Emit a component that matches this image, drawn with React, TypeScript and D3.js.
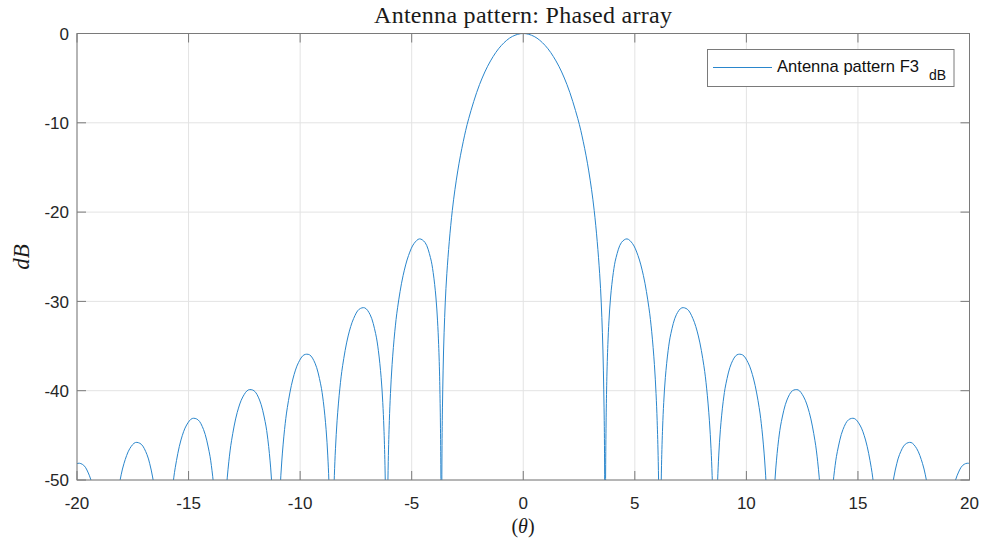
import React from "react";
import * as d3 from "d3";

// Antenna pattern (right half; the pattern is symmetric about 0)
// theta in degrees, level in dB. Nulls are below the -50 dB floor and are clipped.
const thetaDeg: number[] = [
  0, 0.489, 0.978, 1.467, 1.9562, 2.4456, 2.6903, 2.9351, 3.1799, 3.4248, 3.5472, 3.6207, 3.6452, 3.6697,
  3.6942, 3.7432, 3.7922, 3.8412, 3.9147, 4.0373, 4.1598, 4.405, 4.6502, 4.8956, 5.141, 5.3865, 5.6321, 5.755, 5.8778, 5.9516, 6.0007, 6.0499, 6.0991, 6.1237,
  6.1483, 6.1974, 6.2466, 6.2958, 6.3696, 6.4926, 6.6157, 6.8619, 7.1082, 7.3546, 7.6012, 7.8479, 8.0948, 8.2183, 8.3418, 8.4159, 8.4654, 8.5148, 8.589,
  8.6631, 8.7126, 8.7621, 8.8363, 8.96, 9.0838, 9.3315, 9.5793, 9.8274, 10.0756, 10.324, 10.5726, 10.697, 10.8214, 10.8961, 10.9459, 11.0704,
  11.195, 11.2448, 11.3196, 11.4443, 11.5691, 11.8187, 12.0686, 12.3187, 12.5691, 12.8197, 13.0706, 13.1961, 13.3217, 13.3971, 13.573,
  13.6988, 13.8247, 13.9506, 14.0766, 14.3288, 14.5813, 14.834, 15.0871, 15.3404, 15.5941, 15.721, 15.8481, 16.1024,
  16.357, 16.4844, 16.612, 16.7396, 16.8673, 17.1229, 17.3789, 17.6352, 17.892, 18.0205, 18.149, 18.2777, 18.6644,
  19.1813, 19.3108, 19.4404, 19.7, 19.9597, 20.2201, 20.4808,
];
const levelDb: number[] = [
  0, -0.33, -1.33, -3.07, -5.7, -9.54, -12.12, -15.39, -19.82, -26.9, -33.51, -41.84, -47.99, -80,
  -48.25, -38.98, -34.81, -32.18, -29.51, -26.76, -25.09, -23.39, -23.0, -23.52, -24.86, -27.12, -30.71, -33.34, -37.06, -40.32, -43.35, -47.92, -57.59, -80,
  -57.74, -48.35, -44.07, -41.33, -38.51, -35.52, -33.61, -31.49, -30.72, -30.88, -31.91, -33.87, -37.2, -39.71, -43.31, -46.5, -49.48, -54.0, -80,
  -54.31, -49.99, -47.21, -44.32, -41.23, -39.23, -36.92, -35.98, -35.99, -36.86, -38.69, -41.88, -44.33, -47.87, -51.02, -53.98, -80,
  -54.37, -51.56, -48.65, -45.5, -43.45, -41.04, -40.0, -39.91, -40.7, -42.44, -45.55, -47.96, -51.46, -54.59, -80,
  -57.85, -52.1, -48.91, -46.83, -44.35, -43.25, -43.11, -43.84, -45.52, -48.58, -50.96, -54.44, -80,
  -54.97, -51.76, -49.66, -48.18, -47.13, -45.99, -45.8, -46.49, -48.13, -49.42, -51.15, -53.51, -80,
  -52.08, -50.59, -49.53, -48.35, -48.13, -48.79, -50.4,
];

const xTicks = [-20, -15, -10, -5, 0, 5, 10, 15, 20];
const yTicks = [-50, -40, -30, -20, -10, 0];

const titleText = "Antenna pattern: Phased array";
const legendText = "Antenna pattern F3";
const legendSub = "dB";

const W = 981;
const H = 542;
const L = 77;
const R = 969.5;
const T = 33.5;
const B = 480;

const LINE = "#2a86cc";
const AXIS = "#7a7a7a";
const TXT = "#262626";
const GRID = "#e3e3e3";

export default function App() {
  const x = d3.scaleLinear().domain([-20, 20]).range([L, R]);
  const y = d3.scaleLinear().domain([-50, 0]).range([B, T]);

  const pts: [number, number][] = [];
  for (let i = thetaDeg.length - 1; i >= 1; i--) pts.push([-thetaDeg[i], levelDb[i]]);
  for (let i = 0; i < thetaDeg.length; i++) pts.push([thetaDeg[i], levelDb[i]]);

  const line = d3
    .line<[number, number]>()
    .x((d) => x(d[0]))
    .y((d) => y(d[1]))
    .curve(d3.curveCatmullRom.alpha(0.5));

  const sans = "'Liberation Sans', Arial, Helvetica, sans-serif";
  const serif = "'Liberation Serif', 'Times New Roman', serif";
  const tickLen = 9;

  return (
    <div style={{ position: "absolute", left: 0, top: 0 }}>
      <svg width={W} height={H} style={{ display: "block", background: "#fff" }}>
        <defs>
          <clipPath id="plotClip">
            <rect x={L} y={T} width={R - L} height={B - T} />
          </clipPath>
        </defs>
        <rect x={0} y={0} width={W} height={H} fill="#fff" />
        {/* grid */}
        {xTicks.map((t) => (
          <line key={"gx" + t} x1={x(t)} x2={x(t)} y1={T} y2={B} stroke={GRID} strokeWidth={1} />
        ))}
        {yTicks.map((t) => (
          <line key={"gy" + t} x1={L} x2={R} y1={y(t)} y2={y(t)} stroke={GRID} strokeWidth={1} />
        ))}
        {/* data */}
        <path d={line(pts) || ""} fill="none" stroke={LINE} strokeWidth={1} clipPath="url(#plotClip)" />
        {/* box */}
        <rect x={L} y={T} width={R - L} height={B - T} fill="none" stroke={AXIS} strokeWidth={1} />
        {/* ticks */}
        {xTicks.map((t) => (
          <g key={"tx" + t}>
            <line x1={x(t)} x2={x(t)} y1={B} y2={B - tickLen} stroke={AXIS} strokeWidth={1} />
            <line x1={x(t)} x2={x(t)} y1={T} y2={T + tickLen} stroke={AXIS} strokeWidth={1} />
            <text x={x(t)} y={509} textAnchor="middle" fontFamily={sans} fontSize={17} fill={TXT}>
              {t}
            </text>
          </g>
        ))}
        {yTicks.map((t) => (
          <g key={"ty" + t}>
            <line x1={L} x2={L + tickLen} y1={y(t)} y2={y(t)} stroke={AXIS} strokeWidth={1} />
            <line x1={R} x2={R - tickLen} y1={y(t)} y2={y(t)} stroke={AXIS} strokeWidth={1} />
            <text x={69} y={y(t)} dy="0.36em" textAnchor="end" fontFamily={sans} fontSize={17} fill={TXT}>
              {t}
            </text>
          </g>
        ))}
        {/* title */}
        <text x={523} y={23.3} textAnchor="middle" fontFamily={serif} fontSize={24} fill="#1a1a1a" textLength={298} lengthAdjust="spacing">
          {titleText}
        </text>
        {/* x label */}
        <text x={523} y={533} textAnchor="middle" fontFamily={serif} fontSize={20} fill="#1a1a1a">
          (<tspan fontStyle="italic">θ</tspan>)
        </text>
        {/* y label */}
        <text transform="translate(28.5,257) rotate(-90)" textAnchor="middle" fontFamily={serif} fontStyle="italic" fontSize={23} fill="#1a1a1a">
          dB
        </text>
        {/* legend */}
        <rect x={707.5} y={49.5} width={246.5} height={37} fill="#fff" stroke={AXIS} strokeWidth={1} />
        <line x1={713} x2={772} y1={67.5} y2={67.5} stroke={LINE} strokeWidth={1} />
        <text x={777} y={72} fontFamily={sans} fontSize={17} fill="#111" textLength={142} lengthAdjust="spacingAndGlyphs">
          {legendText}
        </text>
        <text x={929} y={80} fontFamily={sans} fontSize={14} fill="#111">
          {legendSub}
        </text>
      </svg>
    </div>
  );
}
